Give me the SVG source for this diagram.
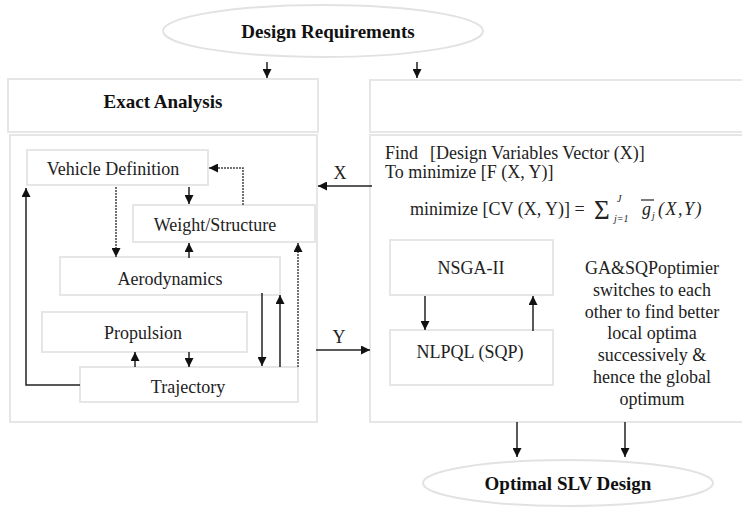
<svg xmlns="http://www.w3.org/2000/svg" width="742" height="507" viewBox="0 0 742 507">
<defs>
<marker id="ah" viewBox="0 0 10 10" refX="10" refY="5" markerWidth="10" markerHeight="9" markerUnits="userSpaceOnUse" orient="auto"><path d="M0,0 L10,5 L0,10 z" fill="#111"/></marker>
</defs>
<style>
.box{fill:#fff;stroke:#e6e6e6;stroke-width:2}
.ell{fill:#fff;stroke:#e2e2e2;stroke-width:2}
.t{font-family:"Liberation Serif","Times New Roman",serif;font-size:18px;fill:#222}
.b{font-weight:bold;font-size:19px;fill:#111}
.c{text-anchor:middle}
.i{font-style:italic}
.s{font-size:10px}
.ln{fill:none;stroke:#222;stroke-width:1.5;marker-end:url(#ah)}
.dt{stroke-dasharray:2 1;stroke:#444}
</style>
<rect width="742" height="507" fill="#fff"/>
<g id="design-requirements"><ellipse class="ell" cx="323" cy="31" rx="160" ry="26"/><text class="t b c" x="328" y="38">Design Requirements</text></g>
<g id="exact-analysis"><rect class="box" x="8" y="79" width="310" height="53"/><text class="t b c" x="163" y="108">Exact Analysis</text><rect class="box" x="10" y="135" width="307" height="287"/></g>
<g id="optimizer"><rect class="box" x="370" y="80" width="380" height="52"/><rect class="box" x="370" y="135" width="380" height="287"/>
<text class="t" x="385" y="159">Find</text><text class="t" x="430" y="159">[Design Variables Vector (X)]</text>
<text class="t" x="385" y="178">To minimize [F (X, Y)]</text>
<text class="t" x="410" y="215">minimize [CV (X, Y)] =</text>
<text class="t" x="594" y="219" style="font-size:27px">Σ</text>
<text class="t i s" x="617" y="202">J</text>
<text class="t i s" x="614" y="222">j=1</text>
<text class="t i" x="642" y="215">g</text>
<line x1="641" y1="200" x2="654" y2="200" stroke="#222" stroke-width="1.2"/>
<text class="t i s" x="652" y="219">j</text>
<text class="t i" x="658" y="215" letter-spacing="1.5">(X,Y)</text>
<text class="t c"><tspan x="652" y="274">GA&amp;SQPoptimier</tspan><tspan x="652" y="296">switches to each</tspan><tspan x="652" y="318">other to find better</tspan><tspan x="652" y="339">local optima</tspan><tspan x="652" y="361">successively &amp;</tspan><tspan x="652" y="383">hence the global</tspan><tspan x="652" y="405">optimum</tspan></text>
</g>
<g id="vehicle-definition"><rect class="box" x="27" y="150" width="181" height="35"/><text class="t c" x="113" y="175">Vehicle Definition</text></g>
<g id="weight-structure"><rect class="box" x="133" y="205" width="182" height="37"/><text class="t c" x="215" y="231">Weight/Structure</text></g>
<g id="aerodynamics"><rect class="box" x="60" y="257" width="220" height="38"/><text class="t c" x="170" y="285">Aerodynamics</text></g>
<g id="propulsion"><rect class="box" x="42" y="312" width="205" height="40"/><text class="t c" x="143" y="339">Propulsion</text></g>
<g id="trajectory"><rect class="box" x="80" y="367" width="218" height="35"/><text class="t c" x="188" y="393">Trajectory</text></g>
<g id="nsga"><rect class="box" x="390" y="240" width="163" height="55"/><text class="t c" x="471" y="274">NSGA-II</text></g>
<g id="nlpql"><rect class="box" x="390" y="330" width="163" height="55"/><text class="t c" x="470" y="358">NLPQL (SQP)</text></g>
<g id="optimal-slv"><ellipse class="ell" cx="568" cy="483" rx="145" ry="23"/><text class="t b c" x="568" y="490">Optimal SLV Design</text></g>
<g id="connectors">
<path class="ln" d="M267,62 L267,78"/>
<path class="ln" d="M417,62 L417,78"/>
<path class="ln" d="M372,186 L318,186"/>
<path class="ln" d="M316,350 L370,350"/>
<path class="ln dt" d="M243,205 L243,168 L209,168"/>
<path class="ln" d="M189,187 L189,204"/>
<path class="ln dt" d="M116,187 L116,257"/>
<path class="ln" d="M189,258 L189,243"/>
<path class="ln" d="M262,293 L262,366"/>
<path class="ln" d="M280,367 L280,295"/>
<path class="ln dt" d="M298,367 L298,243"/>
<path class="ln" d="M80,385 L26,385 L26,188"/>
<path class="ln" d="M135,367 L135,352"/>
<path class="ln" d="M189,352 L189,367"/>
<path class="ln" d="M425,296 L425,330"/>
<path class="ln" d="M533,331 L533,296"/>
<path class="ln" d="M517,422 L517,457"/>
<path class="ln" d="M625,422 L625,457"/>
<text class="t c" x="340" y="179">X</text>
<text class="t c" x="339" y="343">Y</text>
</g>
</svg>
